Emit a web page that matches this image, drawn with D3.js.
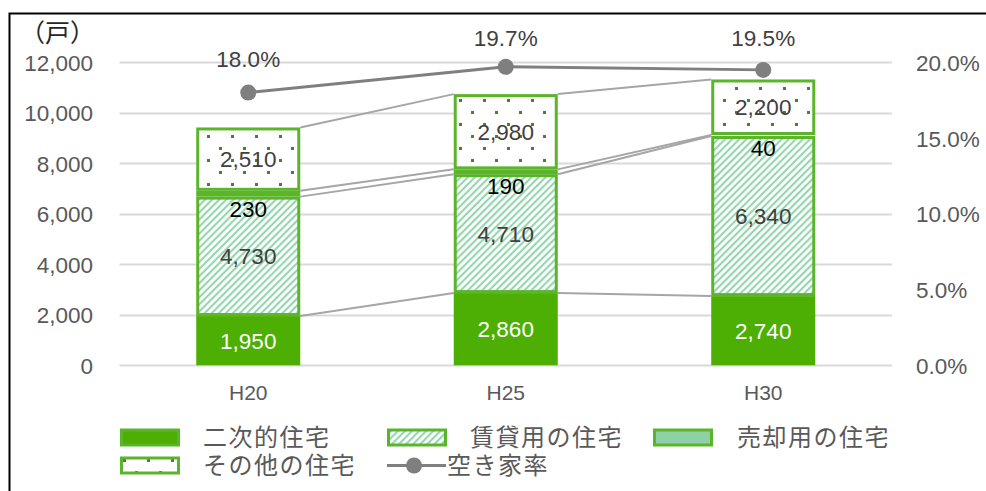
<!DOCTYPE html>
<html>
<head>
<meta charset="utf-8">
<script src="https://cdn.jsdelivr.net/npm/d3@7"></script>
<style>
  body { margin: 0; background: #fff; }
  svg text { font-family: "Liberation Sans", Arial, sans-serif; }
  .jp { font-family: "Noto Sans CJK JP", sans-serif; }
</style>
</head>
<body>
<div id="container"></div>
<script>
/*
    Chart data
*/
var years = ["H20", "H25", "H30"];
var secondHomes = [1950, 2860, 2740];     // 二次的住宅
var rentalHomes = [4730, 4710, 6340];     // 賃貸用の住宅
var saleHomes = [230, 190, 40];           // 売却用の住宅
var otherHomes = [2510, 2980, 2200];      // その他の住宅
var vacancyRate = [0.180, 0.197, 0.195];  // 空き家率
var leftTicks = [0, 2000, 4000, 6000, 8000, 10000, 12000];
var rightTicks = [0, 0.05, 0.10, 0.15, 0.20];

var seriesNames = ["二次的住宅", "賃貸用の住宅", "売却用の住宅", "その他の住宅"];
var seriesValues = [secondHomes, rentalHomes, saleHomes, otherHomes];

var width = 986, height = 491;
var GREEN = "#4dae03", EDGE = "#5bb52a", MINT = "#8fd1a7", STRIPE = "#8dd2a9", DOT = "#4f7f2a";

var svg = d3.select("#container").append("svg")
    .attr("width", width)
    .attr("height", height);

var defs = svg.append("defs");

// diagonal stripes for 賃貸用の住宅
var stripes = defs.append("pattern")
    .attr("id", "stripes")
    .attr("patternUnits", "userSpaceOnUse")
    .attr("width", 5).attr("height", 5)
    .attr("patternTransform", "rotate(45)");
stripes.append("rect").attr("width", 5).attr("height", 5).attr("fill", "#fff");
stripes.append("line")
    .attr("x1", 1.2).attr("y1", 0).attr("x2", 1.2).attr("y2", 5)
    .attr("stroke", STRIPE).attr("stroke-width", 2);

// dots for その他の住宅
var dots = defs.append("pattern")
    .attr("id", "dots")
    .attr("patternUnits", "userSpaceOnUse")
    .attr("x", 3).attr("y", 3)
    .attr("width", 24).attr("height", 24);
dots.append("rect").attr("width", 24).attr("height", 24).attr("fill", "#fff");
dots.append("rect").attr("x", 0).attr("y", 0).attr("width", 3).attr("height", 3).attr("fill", DOT);
dots.append("rect").attr("x", 12).attr("y", 12).attr("width", 3).attr("height", 3).attr("fill", DOT);

var fills = [GREEN, "url(#stripes)", MINT, "url(#dots)"];

// outer frame
svg.append("rect")
    .attr("x", 9.5).attr("y", 13.5)
    .attr("width", 990).attr("height", 500)
    .attr("fill", "none").attr("stroke", "#000").attr("stroke-width", 2);

var x = d3.scaleBand()
    .domain(years)
    .range([119.5, 892])
    .paddingInner(0.596)
    .paddingOuter(0.298);

var y = d3.scaleLinear().domain([0, 12000]).range([365.3, 62.3]);
var y2 = d3.scaleLinear().domain([0, 0.20]).range([365.3, 62.3]);

// gridlines
svg.append("g")
    .selectAll("line")
    .data(leftTicks)
    .enter().append("line")
    .attr("x1", 119.5).attr("x2", 892)
    .attr("y1", function (d) { return Math.round(y(d)) + 0.5; })
    .attr("y2", function (d) { return Math.round(y(d)) + 0.5; })
    .attr("stroke", "#d9d9d9").attr("stroke-width", 2);

// left axis
var leftAxis = svg.append("g")
    .attr("transform", "translate(93,0)")
    .call(d3.axisLeft(y).tickValues(leftTicks).tickSize(0).tickPadding(0).tickFormat(d3.format(",")));
leftAxis.select(".domain").remove();
leftAxis.selectAll("text").attr("fill", "#595959").style("font-size", "22.5px").attr("dy", "0.36em");

// right axis
var rightAxis = svg.append("g")
    .attr("transform", "translate(916,0)")
    .call(d3.axisRight(y2).tickValues(rightTicks).tickSize(0).tickPadding(0).tickFormat(d3.format(".1%")));
rightAxis.select(".domain").remove();
rightAxis.selectAll("text").attr("fill", "#595959").style("font-size", "22.5px").attr("dy", "0.36em");

// x axis labels
svg.append("g")
    .selectAll("text")
    .data(years)
    .enter().append("text")
    .attr("x", function (d) { return x(d) + x.bandwidth() / 2; })
    .attr("y", 400)
    .attr("text-anchor", "middle")
    .attr("fill", "#595959")
    .style("font-size", "21px")
    .text(function (d) { return d; });

// unit label
svg.append("text")
    .attr("class", "jp")
    .attr("x", 20).attr("y", 42)
    .attr("fill", "#262626")
    .style("font-size", "25px")
    .text("（戸）");

/*
    Stack the four series per year
*/
var rows = years.map(function (yr, i) {
    var r = { year: yr };
    seriesNames.forEach(function (n, k) { r[n] = seriesValues[k][i]; });
    return r;
});
var stacked = d3.stack().keys(seriesNames)(rows);

// series lines between bars
var seriesLines = svg.append("g");
stacked.forEach(function (layer) {
    for (var i = 0; i < years.length - 1; i++) {
        seriesLines.append("line")
            .attr("x1", x(years[i]) + x.bandwidth())
            .attr("y1", y(layer[i][1]))
            .attr("x2", x(years[i + 1]))
            .attr("y2", y(layer[i + 1][1]))
            .attr("stroke", "#a6a6a6").attr("stroke-width", 2);
    }
});

// bars
stacked.forEach(function (layer, k) {
    svg.append("g")
        .selectAll("rect")
        .data(layer)
        .enter().append("rect")
        .attr("x", function (d) { return x(d.data.year) + 1.5; })
        .attr("width", x.bandwidth() - 3)
        .attr("y", function (d) { return y(d[1]) + 1.5; })
        .attr("height", function (d) { return Math.max(0, y(d[0]) - y(d[1]) - 3); })
        .attr("fill", fills[k])
        .attr("stroke", k === 0 ? GREEN : EDGE)
        .attr("stroke-width", 3);
});

// bar labels
var labelColors = ["#ffffff", "#404040", "#000000", "#404040"];
stacked.forEach(function (layer, k) {
    svg.append("g")
        .selectAll("text")
        .data(layer)
        .enter().append("text")
        .attr("x", function (d) { return x(d.data.year) + x.bandwidth() / 2; })
        .attr("y", function (d) {
            if (k === 2) return y(d[0]) + 12;
            return (y(d[0]) + y(d[1])) / 2;
        })
        .attr("dy", "0.36em")
        .attr("text-anchor", "middle")
        .attr("fill", labelColors[k])
        .style("font-size", "22.5px")
        .text(function (d) { return d3.format(",")(d[1] - d[0]); });
});

// vacancy rate line
var line = d3.line()
    .x(function (d, i) { return x(years[i]) + x.bandwidth() / 2; })
    .y(function (d) { return y2(d); });

svg.append("path")
    .datum(vacancyRate)
    .attr("d", line)
    .attr("fill", "none")
    .attr("stroke", "#7f7f7f")
    .attr("stroke-width", 3);

svg.append("g")
    .selectAll("circle")
    .data(vacancyRate)
    .enter().append("circle")
    .attr("cx", function (d, i) { return x(years[i]) + x.bandwidth() / 2; })
    .attr("cy", function (d) { return y2(d); })
    .attr("r", 8)
    .attr("fill", "#7f7f7f");

svg.append("g")
    .selectAll("text")
    .data(vacancyRate)
    .enter().append("text")
    .attr("x", function (d, i) { return x(years[i]) + x.bandwidth() / 2; })
    .attr("y", function (d) { return Math.max(38, y2(d) - 34); })
    .attr("dy", "0.36em")
    .attr("text-anchor", "middle")
    .attr("fill", "#404040")
    .style("font-size", "22.5px")
    .text(function (d) { return d3.format(".1%")(d); });

/*
    Legend
*/
var legendItems = [
    { name: "二次的住宅", fill: GREEN, sx: 120, row: 0, tx: 203 },
    { name: "賃貸用の住宅", fill: "url(#stripes)", sx: 387, row: 0, tx: 470 },
    { name: "売却用の住宅", fill: MINT, sx: 653, row: 0, tx: 737 },
    { name: "その他の住宅", fill: "url(#dots)", sx: 120, row: 1, tx: 203 },
    { name: "空き家率", fill: null, sx: 387, row: 1, tx: 447 }
];
var rowY = [437.5, 465.5];

var legend = svg.append("g");
legendItems.forEach(function (it) {
    var cy = rowY[it.row];
    if (it.fill) {
        legend.append("rect")
            .attr("x", it.sx + 1.5).attr("y", cy - 7.5)
            .attr("width", 57).attr("height", 15)
            .attr("fill", it.fill)
            .attr("stroke", EDGE).attr("stroke-width", 3);
    } else {
        legend.append("line")
            .attr("x1", it.sx).attr("x2", it.sx + 59)
            .attr("y1", cy).attr("y2", cy)
            .attr("stroke", "#7f7f7f").attr("stroke-width", 3);
        legend.append("circle")
            .attr("cx", it.sx + 27).attr("cy", cy).attr("r", 8)
            .attr("fill", "#7f7f7f");
    }
    legend.append("text")
        .attr("class", "jp")
        .attr("x", it.tx).attr("y", cy)
        .attr("dy", "0.36em")
        .attr("fill", "#595959")
        .style("font-size", "24px")
        .style("letter-spacing", "1.5px")
        .text(it.name);
});
</script>
</body>
</html>
